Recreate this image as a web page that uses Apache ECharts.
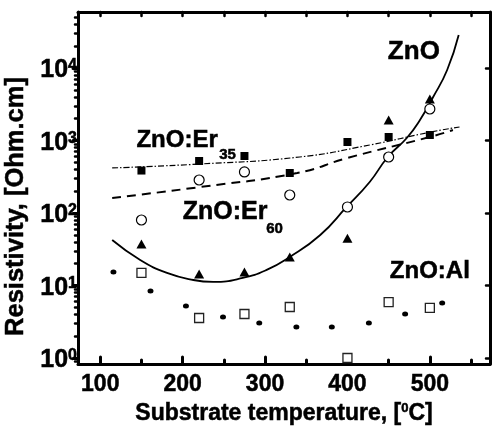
<!DOCTYPE html>
<html><head><meta charset="utf-8">
<script src="https://cdn.jsdelivr.net/npm/echarts@6/dist/echarts.min.js"></script>
<style>html,body{margin:0;padding:0;background:#fff}#c{width:492px;height:431px}</style>
</head><body><div id="c"></div>
<script>
// ---- data ----
const temps = [150, 220, 275, 330, 400, 450, 500];
const er35 = [385, 521, 611, 356, 953, 1117, 1191];
const er60 = [80, 285, 368, 177, 121, 592, 2720];
const zno = [37.3, 14.4, 15.4, 24.7, 45, 1920, 3730];
const znoAl = [14.9, 3.56, 4.04, 5.05, 1.0, 5.9, 4.9];
const alDotsT = [116, 161, 204, 249, 293, 338, 381, 426, 470, 515];
const alDotsR = [15.4, 8.4, 5.2, 3.68, 3.04, 2.68, 2.68, 3.04, 4.04, 5.74];
const znoFitT = [114.5, 148.5, 181, 213, 237, 273, 302, 330, 367, 399, 427, 449, 472, 488, 504, 521, 535];
const znoFitR = [42.4, 22.5, 14.9, 11.9, 11.2, 12.7, 16.4, 24.7, 49.7, 121, 268, 592, 1083, 1918, 3980, 9380, 28500];
const er35FitT = [114.5, 221, 342, 427, 500, 536];
const er35FitR = [418, 474, 592, 867, 1300, 1535];
const er60FitT = [114.5, 221, 339, 400, 500, 528];
const er60FitR = [161, 228, 356, 574, 1117, 1396];
const xTicks = [100, 200, 300, 400, 500];
const xMinorTicks = [150, 250, 350, 450, 550];
const yTicks = [1, 10, 100, 1000, 10000];
const yMinorTicks = [0.9, 2, 3, 4, 5, 6, 7, 8, 9, 20, 30, 40, 50, 60, 70, 80, 90,
  200, 300, 400, 500, 600, 700, 800, 900, 2000, 3000, 4000, 5000, 6000, 7000, 8000, 9000,
  20000, 30000, 40000, 50000];
const labelTexts = ['ZnO', 'ZnO:Er', '35', 'ZnO:Er', '60', 'ZnO:Al'];
const labelT = [480.6, 193.3, 254.5, 251.5, 311.5, 500];
const labelR = [16620, 1016, 631, 103.2, 61.1, 15.85];

// ---- chart ----
const FF = "'Liberation Sans', Arial, sans-serif";
const X_MIN = 73, X_MAX = 573, Y_MIN = 0.826, Y_MAX = 59200;
const zip = (a, b) => a.map((v, i) => [v, b[i]]);
const axisLine = { show: true, lineStyle: { color: '#000', width: 3 } };
const tickLine = (w) => ({ color: '#000', width: w, cap: 'round' });
const labelSizes = [26, 24, 15, 25, 15, 24];
const heavy = { textBorderColor: '#000', textBorderWidth: 0.5 };

const chart = echarts.init(document.getElementById('c'), null, { renderer: 'canvas' });
chart.setOption({
  backgroundColor: '#fff',
  animation: false,
  textStyle: { fontFamily: FF },
  grid: { left: 78, right: 2, top: 12, bottom: 67, containLabel: false, outerBoundsMode: 'none' },
  xAxis: [
    {
      type: 'value', position: 'bottom', min: X_MIN, max: X_MAX,
      axisLine: axisLine,
      axisTick: { show: true, inside: true, length: 7, customValues: xTicks, lineStyle: tickLine(3) },
      axisLabel: Object.assign({ customValues: xTicks, margin: 9, fontSize: 23, fontWeight: 'bold', color: '#000', fontFamily: FF }, heavy),
      splitLine: { show: false },
      name: 'Substrate temperature, [{s|0}C]',
      nameLocation: 'middle', nameGap: 38,
      nameTextStyle: Object.assign({
        fontSize: 23, fontWeight: 'bold', color: '#000', fontFamily: FF, lineHeight: 23,
        rich: { s: Object.assign({ fontSize: 13, fontWeight: 'bold', color: '#000', fontFamily: FF, lineHeight: 13, verticalAlign: 'top' }, heavy) }
      }, heavy)
    },
    {
      type: 'value', position: 'bottom', min: X_MIN, max: X_MAX,
      axisLine: { show: false },
      axisTick: { show: true, inside: true, length: 4, customValues: xMinorTicks, lineStyle: tickLine(3) },
      axisLabel: { show: false }, splitLine: { show: false }
    },
    {
      type: 'value', position: 'top', min: X_MIN, max: X_MAX,
      axisLine: axisLine,
      axisTick: { show: true, inside: true, length: 4, customValues: xTicks.concat(xMinorTicks), lineStyle: tickLine(2.5) },
      axisLabel: { show: false }, splitLine: { show: false }
    }
  ],
  yAxis: [
    {
      type: 'log', position: 'left', min: Y_MIN, max: Y_MAX,
      axisLine: axisLine,
      axisTick: { show: true, inside: false, length: 5, customValues: yTicks, lineStyle: tickLine(3) },
      axisLabel: {
        customValues: yTicks, margin: 1, padding: [5, 0, 0, 0],
        formatter: v => '{b|10}{s|' + Math.round(Math.log10(v)) + '}',
        rich: {
          b: Object.assign({ fontSize: 25, fontWeight: 'bold', color: '#000', fontFamily: FF, lineHeight: 25 }, heavy),
          s: Object.assign({ fontSize: 16, fontWeight: 'bold', color: '#000', fontFamily: FF, lineHeight: 16, verticalAlign: 'top' }, heavy)
        }
      },
      splitLine: { show: false },
      name: 'Resistivity, [Ohm.cm]',
      nameLocation: 'middle', nameGap: 38,
      nameTextStyle: Object.assign({ fontSize: 25.5, fontWeight: 'bold', color: '#000', fontFamily: FF, padding: [0, 37, 0, 0] }, heavy)
    },
    {
      type: 'log', position: 'left', min: Y_MIN, max: Y_MAX,
      axisLine: { show: false },
      axisTick: { show: true, inside: false, length: 3, customValues: yMinorTicks, lineStyle: tickLine(2.5) },
      axisLabel: { show: false }, splitLine: { show: false }
    },
    {
      type: 'log', position: 'right', min: Y_MIN, max: Y_MAX,
      axisLine: axisLine,
      axisTick: { show: true, inside: true, length: 4, customValues: yTicks, lineStyle: tickLine(2.5) },
      axisLabel: { show: false }, splitLine: { show: false }
    }
  ],
  series: [
    { type: 'line', data: zip(er35FitT, er35FitR), smooth: true, symbol: 'none',
      lineStyle: { color: '#000', width: 1.2, type: [6, 2, 1.5, 2] }, z: 2 },
    { type: 'line', data: zip(er60FitT, er60FitR), smooth: true, symbol: 'none',
      lineStyle: { color: '#000', width: 2, type: [9, 6] }, z: 2 },
    { type: 'line', data: zip(znoFitT, znoFitR), smooth: true, symbol: 'none',
      lineStyle: { color: '#000', width: 1.8 }, z: 2 },
    { type: 'scatter', data: zip(alDotsT, alDotsR), symbol: 'circle', symbolSize: [6, 5],
      itemStyle: { color: '#000', opacity: 1 }, z: 3 },
    { type: 'scatter', data: zip(temps, er35), symbol: 'rect', symbolSize: 8,
      itemStyle: { color: '#000', opacity: 1 }, z: 4 },
    { type: 'scatter', data: zip(temps, er60), symbol: 'circle', symbolSize: 10,
      itemStyle: { color: '#fff', borderColor: '#000', borderWidth: 1.2, opacity: 1 }, z: 4 },
    { type: 'scatter', data: zip(temps, zno), symbol: 'triangle', symbolSize: [10, 9],
      itemStyle: { color: '#000', opacity: 1 }, z: 4 },
    { type: 'scatter', data: zip(temps, znoAl), symbol: 'rect', symbolSize: 9,
      itemStyle: { color: '#fff', borderColor: '#222', borderWidth: 1.3, opacity: 1 }, z: 4 },
    { type: 'scatter', symbol: 'circle', symbolSize: 1, silent: true, z: 5,
      itemStyle: { color: 'rgba(0,0,0,0)', opacity: 1 },
      data: labelTexts.map((t, i) => ({
        value: [labelT[i], labelR[i]],
        label: Object.assign({ show: true, position: 'inside', formatter: t, fontSize: labelSizes[i],
          fontWeight: 'bold', color: '#000', fontFamily: FF, opacity: 1 }, heavy)
      }))
    }
  ]
});
</script>
</body></html>
